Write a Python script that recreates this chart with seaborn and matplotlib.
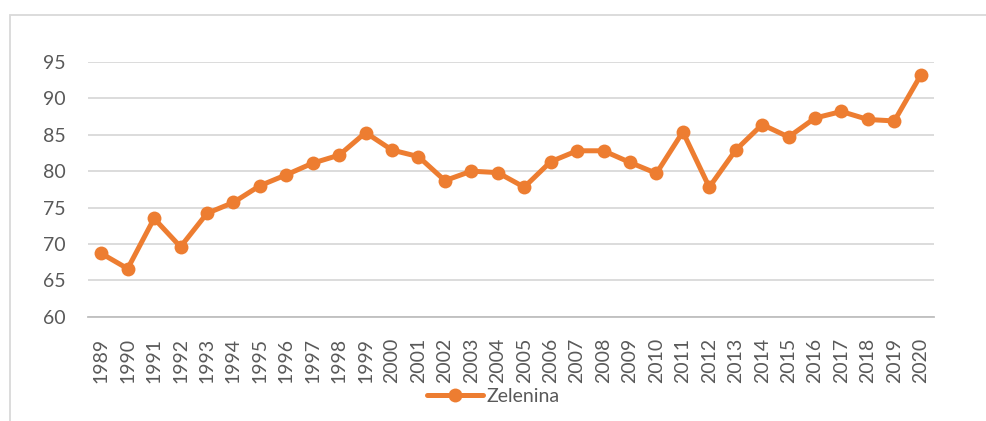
import matplotlib
matplotlib.use("Agg")
import matplotlib.pyplot as plt
import seaborn as sns
import pandas as pd
import numpy as np
from matplotlib.patches import Rectangle

years = [str(y) for y in range(1989, 2021)]
zelenina = [68.7, 66.6, 73.5, 69.6, 74.2, 75.7, 78.0, 79.5, 81.1, 82.2,
            85.3, 82.9, 82.0, 78.7, 80.0, 79.8, 77.8, 81.3, 82.8, 82.8,
            81.2, 79.7, 85.4, 77.8, 82.9, 86.4, 84.7, 87.3, 88.2, 87.1,
            86.9, 93.2]
y_ticks = [60, 65, 70, 75, 80, 85, 90, 95]
series_name = "Zelenina"

sns.set_theme(style="white")
plt.rcParams['font.family'] = ['Lato', 'DejaVu Sans']

ORANGE = "#ED7D31"
TXT = "#595959"
GRID = "#D9D9D9"
AXIS = "#BFBFBF"

df = pd.DataFrame({"Rok": years, series_name: zelenina})

fig = plt.figure(figsize=(9.86, 4.21), dpi=100)
ax = fig.add_axes([88/986, 1-316.7/421, (934-88)/986, (316.7-62)/421])

sns.lineplot(data=df, x="Rok", y=series_name, ax=ax, color=ORANGE,
             linewidth=3.6, marker="o", markersize=10, markeredgewidth=0,
             label=series_name, sort=False)

ax.set_xlim(-0.5, len(years) - 0.5)
ax.set_ylim(60, 95)
ax.set_yticks(y_ticks)
ax.set_xticks(range(len(years)))
ax.set_xticklabels(years, rotation=90)
ax.set_xticks(np.arange(-0.5, len(years), 1.0), minor=True)
ax.tick_params(axis="x", which="major", length=0, pad=15, labelsize=14, labelcolor=TXT)
ax.tick_params(axis="x", which="minor", length=5, width=1.1, color=AXIS, direction="out")
ax.tick_params(axis="y", length=0, pad=16, labelsize=14, labelcolor=TXT)
ax.set_xlabel("")
ax.set_ylabel("")

ax.yaxis.grid(True, color=GRID, linewidth=1.3)
ax.xaxis.grid(False)
ax.set_axisbelow(True)
for s in ["top", "right", "left"]:
    ax.spines[s].set_visible(False)
ax.spines["bottom"].set_color(AXIS)
ax.spines["bottom"].set_linewidth(1.3)

leg = ax.legend(loc="center", bbox_to_anchor=(0.5, 1-396/421), bbox_transform=fig.transFigure,
                frameon=False, fontsize=14, handlelength=2.9, handletextpad=0.15,
                markerscale=1.0)
for t in leg.get_texts():
    t.set_color(TXT)

# outer chart frame (left and top edges visible)
fig.patches.append(Rectangle((10/986, -0.1), 1.2, 1 - 15/421 + 0.1,
                             transform=fig.transFigure, fill=False,
                             edgecolor=GRID, linewidth=1.3))

fig.savefig("out.png", dpi=100, facecolor="white")
